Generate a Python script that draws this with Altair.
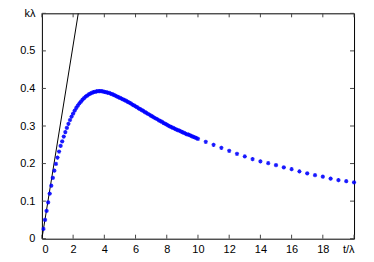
import altair as alt
import pandas as pd

# dense samples t = 0.1 .. 10.0 step 0.1
dense_t = [round(0.1 * i, 1) for i in range(1, 101)]
dense_v = [
    0.026, 0.050, 0.074, 0.097, 0.120, 0.141, 0.162, 0.181, 0.199, 0.216,
    0.232, 0.247, 0.259, 0.272, 0.284, 0.295, 0.306, 0.316, 0.325, 0.333,
    0.341, 0.348, 0.354, 0.360, 0.365, 0.370, 0.374, 0.378, 0.381, 0.384,
    0.386, 0.388, 0.390, 0.391, 0.392, 0.393, 0.393, 0.393, 0.392, 0.391,
    0.390, 0.389, 0.388, 0.386, 0.385, 0.383, 0.381, 0.379, 0.377, 0.375,
    0.373, 0.371, 0.369, 0.367, 0.364, 0.362, 0.360, 0.357, 0.355, 0.352,
    0.350, 0.347, 0.345, 0.342, 0.340, 0.337, 0.335, 0.332, 0.330, 0.327,
    0.325, 0.322, 0.320, 0.318, 0.315, 0.313, 0.311, 0.308, 0.306, 0.304,
    0.301, 0.299, 0.297, 0.295, 0.293, 0.291, 0.289, 0.288, 0.286, 0.284,
    0.282, 0.280, 0.278, 0.277, 0.275, 0.273, 0.271, 0.270, 0.268, 0.266,
]
# sparse samples t = 10.5 .. 20 step 0.5
sparse_t = [10.5, 11.0, 11.5, 12.0, 12.5, 13.0, 13.5, 14.0, 14.5, 15.0,
            15.5, 16.0, 16.5, 17.0, 17.5, 18.0, 18.5, 19.0, 19.5, 20.0]
sparse_v = [0.258, 0.250, 0.242, 0.234, 0.226, 0.219, 0.212, 0.206, 0.201, 0.196,
            0.190, 0.185, 0.179, 0.174, 0.169, 0.165, 0.160, 0.156, 0.153, 0.150]

# initial-slope line
line_t = [0.0, 2.33]
line_v = [0.0, 0.6]

x_ticks = [0, 2, 4, 6, 8, 10, 12, 14, 16, 18, 20]
y_ticks = [0, 0.1, 0.2, 0.3, 0.4, 0.5, 0.6]

W, H = 313, 226
TL = 4
TICKC = "#444444"

pts = pd.DataFrame({"t": dense_t + sparse_t, "v": dense_v + sparse_v})
ln = pd.DataFrame({"t": line_t, "v": line_v})
xt = pd.DataFrame({"t": x_ticks})
yt = pd.DataFrame({"v": y_ticks})

xscale = alt.Scale(domain=[0, 20], nice=False, zero=False)
yscale = alt.Scale(domain=[0, 0.6], nice=False, zero=False)

xaxis = alt.Axis(values=x_ticks, title=None, ticks=False, domain=False, grid=False,
                 labelExpr="datum.value == 20 ? 't/λ' : format(datum.value, 'd')",
                 labelPadding=5, labelFont="Liberation Sans", labelFontSize=11,
                 labelColor="black")
yaxis = alt.Axis(values=y_ticks, title=None, ticks=False, domain=False, grid=False,
                 labelExpr="datum.value >= 0.59 ? 'kλ' : (datum.value == 0 ? '0' : format(datum.value, '.1f'))",
                 labelPadding=7, labelFont="Liberation Sans", labelFontSize=11,
                 labelColor="black")

X = alt.X("t:Q", scale=xscale, axis=xaxis)
Y = alt.Y("v:Q", scale=yscale, axis=yaxis)

star = "M-1,0L1,0M0,-1L0,1M-0.7,-0.7L0.7,0.7M-0.7,0.7L0.7,-0.7"

points = alt.Chart(pts).mark_point(shape=star, filled=False, size=18, stroke="#0000ff",
                                   strokeWidth=1.1, opacity=0.9).encode(x=X, y=Y)

line = alt.Chart(ln).mark_line(color="black", strokeWidth=1, clip=True).encode(x=X, y=Y)

bt = alt.Chart(xt).mark_rule(color=TICKC, strokeWidth=1).encode(
    x=X, y=alt.value(H), y2=alt.value(H - TL))
tt = alt.Chart(xt).mark_rule(color=TICKC, strokeWidth=1).encode(
    x=X, y=alt.value(0), y2=alt.value(TL))
lt = alt.Chart(yt).mark_rule(color=TICKC, strokeWidth=1).encode(
    y=Y, x=alt.value(0), x2=alt.value(TL))
rt = alt.Chart(yt).mark_rule(color=TICKC, strokeWidth=1).encode(
    y=Y, x=alt.value(W), x2=alt.value(W - TL))

chart = alt.layer(bt, tt, lt, rt, line, points).properties(
    width=W, height=H,
    autosize="none",
    padding={"left": 34, "top": 5, "right": 12, "bottom": 15},
    background="white",
).configure_view(stroke="black", strokeWidth=1)

chart.save("out.html", embed_options={"renderer": "svg", "actions": False})
